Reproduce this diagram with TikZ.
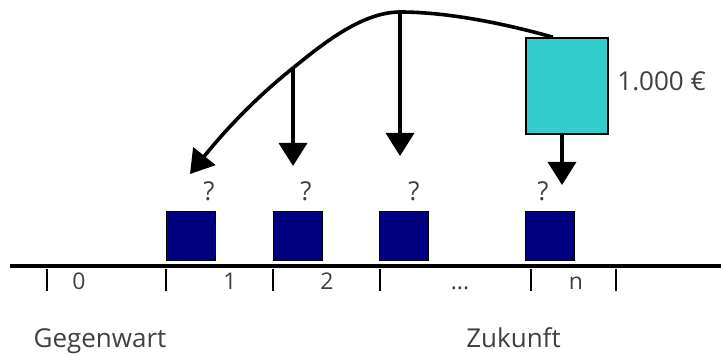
\documentclass[tikz,border=0pt]{standalone}
\usepackage{fontspec}
\setmainfont{Open Sans}
\usetikzlibrary{arrows.meta, calc}
\definecolor{tuerkis}{HTML}{33CCCC}
\definecolor{marine}{HTML}{000080}
\definecolor{schrift}{HTML}{404040}
\newcommand{\punkte}{...}
\tikzset{
  zahlung/.style={rectangle, draw=black, line width=0.8pt, fill=tuerkis,
    minimum width=41pt, minimum height=48pt, inner sep=0pt},
  kasten/.style={rectangle, draw=black, line width=0.5pt, fill=marine,
    minimum width=24.5pt, minimum height=24.5pt, inner sep=0pt},
  pfeil/.style={-{Triangle[width=14pt, length=11.5pt]}, line width=1.8pt},
  achse/.style={line width=2pt},
  strich/.style={line width=1.3pt},
  beschriftung/.style={font=\fontsize{13}{15}\selectfont, text=schrift,
    inner sep=0pt},
  zahl/.style={font=\fontsize{11.5}{13}\selectfont, text=schrift,
    inner sep=0pt, anchor=base}
}

\begin{document}
\begin{tikzpicture}[x=0.5pt, y=-0.5pt]
    \useasboundingbox (0,0) rectangle (721,356);

    % Zeitachse mit Strichen
    \coordinate (links) at (10,266);
    \coordinate (rechts) at (721,266);
    \draw[achse] (links) -- (rechts);
    \foreach \x in {47,166,273,380,531,616} {
      \draw[strich] (\x,269) -- (\x,291);
    }
    \foreach \x/\t/\id in {79/0/p0, 230/1/p1, 327/2/p2, 460/\punkte/p3, 576/n/pn} {
      \node[zahl] (\id) at (\x,290) {\t};
    }

    % Barwerte (unbekannt)
    \foreach \x/\q/\id in {190.5/209/1, 297.5/306/2, 404/414/3, 549.5/543/4} {
      \node[kasten] (wert\id) at (\x,236.5) {};
      \node[beschriftung, anchor=base] (frage\id) at (\q,201) {?};
    }

    % Zahlung im Jahr n
    \node[zahlung] (zahlung) at (567,86) {};
    \node[beschriftung, anchor=base west] (betrag) at (617,91) {1.000 €};

    % Abzinsung
    \coordinate (gipfel) at (400,12);
    \coordinate (knick) at (293,68);
    \coordinate (ziel1) at (190,174);
    \coordinate (ziel2) at (293,166);
    \coordinate (ziel3) at (400,156);
    \coordinate (ziel4) at (562,185);
    \draw[pfeil] ($(zahlung.north west)!0.33!(zahlung.north east)$)
      .. controls (510,25) and (450,12) .. (gipfel)
      .. controls (360,12) and (318,48) .. (knick)
      .. controls (268,88) and (235,118) .. (ziel1);
    \draw[pfeil] (knick) -- (ziel2);
    \draw[pfeil] (gipfel) -- (ziel3);
    \draw[pfeil] ($(zahlung.south west)!0.44!(zahlung.south east)$) -- (ziel4);

    % Zeitpunkte
    \node[beschriftung, anchor=base] (gegenwart) at (100,348) {Gegenwart};
    \node[beschriftung, anchor=base] (zukunft) at (513.5,348) {Zukunft};
\end{tikzpicture}
\end{document}
